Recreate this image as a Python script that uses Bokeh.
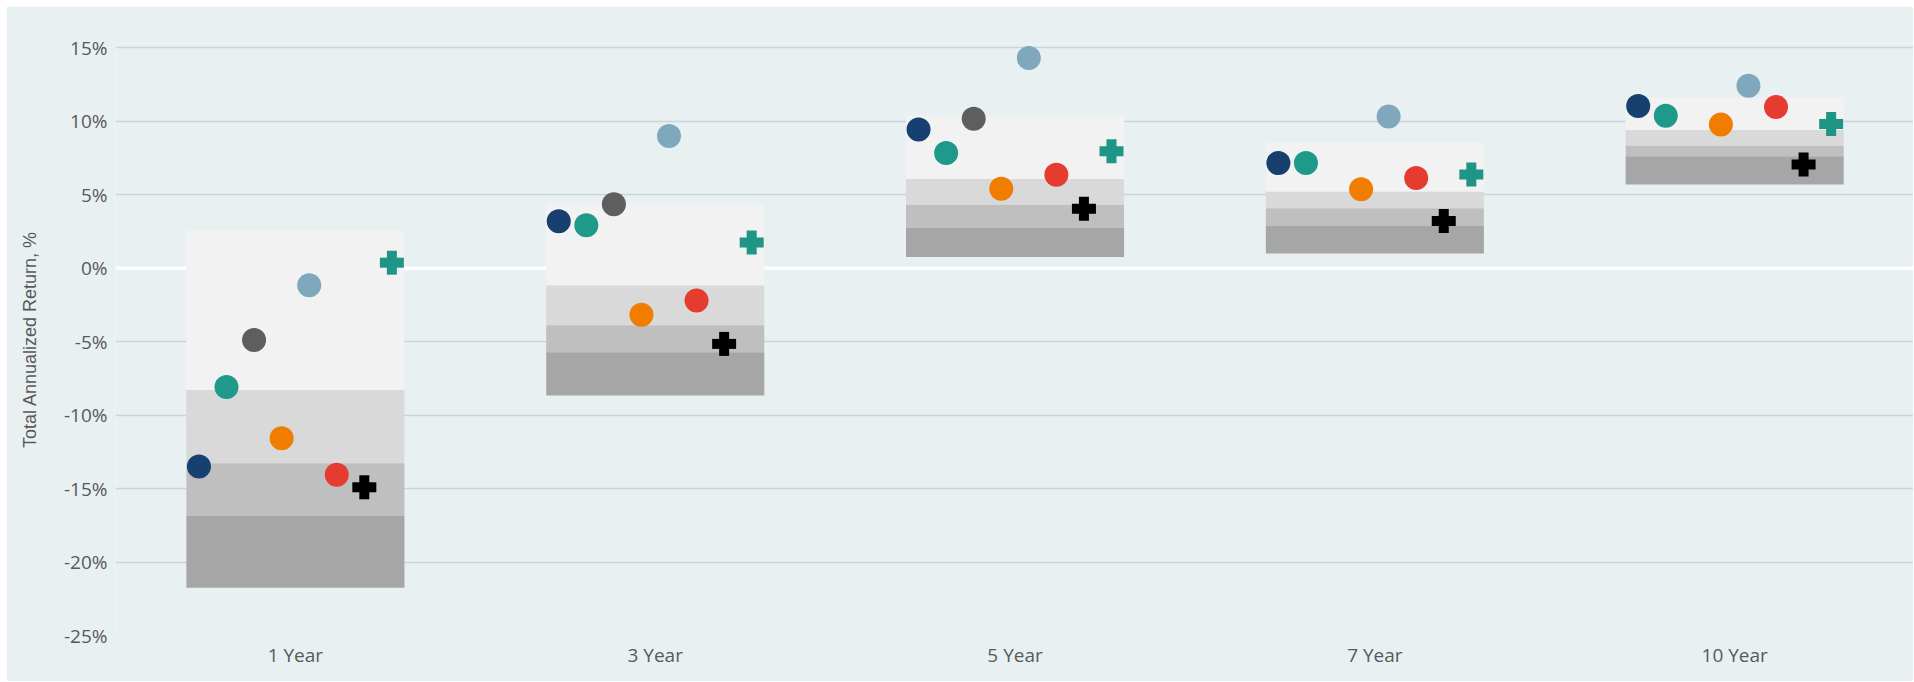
from bokeh.plotting import figure
from bokeh.models import Range1d, FixedTicker, PrintfTickFormatter, Span, ColumnDataSource
from bokeh.embed import file_html
from bokeh.resources import INLINE

# ---------------- data ----------------
periods = ["1 Year", "3 Year", "5 Year", "7 Year", "10 Year"]

# percentile band edges (top -> bottom)
band_top = [2.57, 4.35, 10.38, 8.58, 11.60]
band_q1 = [-8.28, -1.18, 6.07, 5.21, 9.41]
band_med = [-13.28, -3.88, 4.32, 4.08, 8.34]
band_q3 = [-16.86, -5.71, 2.75, 2.87, 7.63]
band_bottom = [-21.75, -8.67, 0.77, 1.01, 5.71]

s_navy = [-13.49, 3.20, 9.44, 7.16, 11.04]
s_teal = [-8.08, 2.93, 7.84, 7.16, 10.38]
s_gray = [-4.88, 4.35, 10.18, None, None]
s_orange = [-11.57, -3.17, 5.41, 5.38, 9.79]
s_lightblue = [-1.15, 9.00, 14.32, 10.33, 12.43]
s_red = [-14.05, -2.19, 6.36, 6.15, 10.98]
s_black_cross = [-14.91, -5.15, 4.05, 3.22, 7.07]
s_teal_cross = [0.38, 1.75, 7.96, 6.39, 9.82]

y_ticks = [-25, -20, -15, -10, -5, 0, 5, 10, 15]
y_title = "Total Annualized Return, %"

# ---------------- styling ----------------
BG = "#e8f0f2"
GRID = "#cdd4d7"
TXT = "#595959"
FONT = "Open Sans"
band_colors = ["#f2f2f2", "#d9d9d9", "#bfbfbf", "#a6a6a6"]
dot_series = [
    (s_navy, "#173f6f", 0),
    (s_teal, "#1f9a8a", 1),
    (s_gray, "#5e5e5e", 2),
    (s_orange, "#f07d00", 3),
    (s_lightblue, "#7fa8bd", 4),
    (s_red, "#e63c30", 5),
]
cross_series = [
    (s_black_cross, "#000000", 6),
    (s_teal_cross, "#1f9585", 7),
]
STEP = 0.0766
BOX_W = 0.606

centers = [i + 0.5 for i in range(len(periods))]

p = figure(width=1907, height=675, output_backend="svg", toolbar_location=None,
           x_range=Range1d(0, 4.997), y_range=Range1d(-25, 15.3),
           min_border_left=109, min_border_right=0, min_border_top=37, min_border_bottom=46)
p.margin = (6, 0, 0, 6)
p.background_fill_color = BG
p.border_fill_color = BG
p.outline_line_color = None

# grid
p.xgrid.grid_line_color = None
p.ygrid.ticker = FixedTicker(ticks=y_ticks)
p.ygrid.grid_line_color = GRID
p.ygrid.grid_line_width = 1.3
zero = Span(location=0, dimension="width", line_color="white", line_width=3.5, level="underlay")
p.add_layout(zero)

# bands
edges = [band_top, band_q1, band_med, band_q3, band_bottom]
for k in range(4):
    src = ColumnDataSource(dict(x=centers, top=edges[k], bottom=edges[k + 1]))
    p.vbar(x="x", top="top", bottom="bottom", width=BOX_W, source=src,
           fill_color=band_colors[k], line_color=None)

# dots
for vals, col, k in dot_series:
    xs = [c + (k - 3.5) * STEP for c, v in zip(centers, vals) if v is not None]
    ys = [v for v in vals if v is not None]
    p.scatter(xs, ys, size=24, marker="circle", fill_color=col, line_color=None)

# crosses
for vals, col, k in cross_series:
    xs = [c + (k - 3.5) * STEP for c in centers]
    p.rect(xs, vals, width=24, height=10, width_units="screen", height_units="screen",
           fill_color=col, line_color=None)
    p.rect(xs, vals, width=10, height=24, width_units="screen", height_units="screen",
           fill_color=col, line_color=None)

# axes
p.xaxis.ticker = FixedTicker(ticks=centers)
p.xaxis.major_label_overrides = {c: lab for c, lab in zip(centers, periods)}
p.yaxis.ticker = FixedTicker(ticks=y_ticks)
p.yaxis.formatter = PrintfTickFormatter(format="%d%%")
for ax in (p.xaxis[0], p.yaxis[0]):
    ax.axis_line_color = None
    ax.major_tick_line_color = None
    ax.minor_tick_line_color = None
    ax.major_tick_out = 0
    ax.major_tick_in = 0
    ax.minor_tick_out = 0
    ax.minor_tick_in = 0
    ax.major_label_text_color = TXT
    ax.major_label_text_font = FONT
    ax.major_label_text_font_size = "19px"
p.xaxis.major_label_standoff = 6
p.yaxis.major_label_standoff = 8

p.yaxis.axis_label = y_title
p.yaxis.axis_label_text_font = "Liberation Sans"
p.yaxis.axis_label_text_font_size = "18px"
p.yaxis.axis_label_text_font_style = "normal"
p.yaxis.axis_label_text_color = TXT
p.yaxis.axis_label_standoff = 21

open("out.html", "w").write(file_html(p, INLINE))
